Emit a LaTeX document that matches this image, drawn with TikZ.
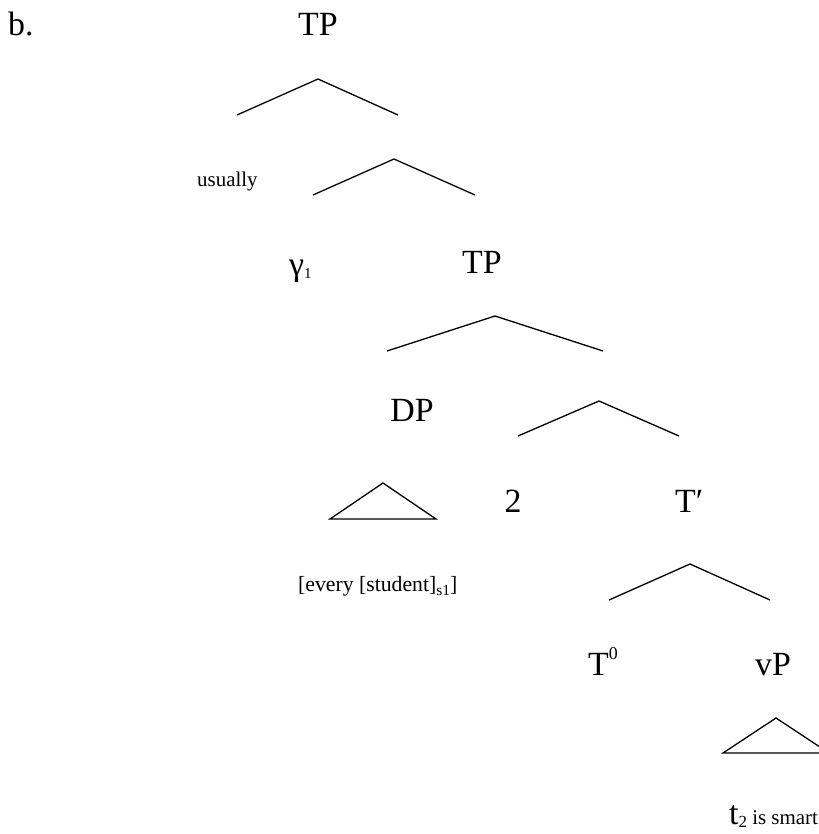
\documentclass[tikz,border=0pt]{standalone}
\usepackage{fontspec}
\setmainfont{Liberation Serif}
\newcommand{\bigf}{\fontsize{34}{40}\selectfont}
\newcommand{\smallf}{\fontsize{21}{25}\selectfont}
\newcommand{\tinyf}{\fontsize{15}{18}\selectfont}
\begin{document}
\begin{tikzpicture}[x=1bp,y=-1bp,
  lbl/.style={inner sep=0pt,anchor=base,font=\bigf},
  slbl/.style={inner sep=0pt,anchor=base west,font=\smallf},
  branch/.style={line width=1.3bp,line cap=butt,line join=miter}]
\useasboundingbox (0,0) rectangle (819,834);
% labels
\node[inner sep=0pt,anchor=base west,font=\bigf] (b) at (8,35) {b.};
\node[lbl] (tp1) at (318,35) {TP};
\node[slbl] (usually) at (197,186) {usually};
\node[inner sep=0pt,anchor=base west,font=\bigf] (gamma) at (289,275) {γ\raisebox{-3bp}{\tinyf 1}};
\node[lbl] (tp2) at (482,273) {TP};
\node[lbl] (dp) at (412,421) {DP};
\node[lbl] (two) at (513,512) {2};
\node[inner sep=0pt,anchor=base west,font=\bigf] (tbar) at (675,512) {T′};
\node[slbl,font=\fontsize{21.8}{25}\selectfont] (every) at (298,591) {[every [student]\raisebox{-4bp}{\fontsize{15.5}{18}\selectfont s1}]};
\node[inner sep=0pt,anchor=base west,font=\bigf] (t0) at (588,675) {T\raisebox{16bp}{\fontsize{18}{20}\selectfont 0}};
\node[lbl] (vp) at (773,675) {vP};
\node[inner sep=0pt,anchor=base west] (tsmart) at (729,824) {{\bigf t}{\smallf\raisebox{-3bp}{\fontsize{17}{20}\selectfont 2} is smart}};
% branches
\coordinate (a1) at (318,79);  \coordinate (l1) at (237,115); \coordinate (r1) at (398,115);
\coordinate (a2) at (394,159); \coordinate (l2) at (313,195); \coordinate (r2) at (475,195);
\coordinate (a3) at (495,316); \coordinate (l3) at (387,351); \coordinate (r3) at (603,351);
\coordinate (a4) at (599,401); \coordinate (l4) at (518,436); \coordinate (r4) at (679,436);
\coordinate (a5) at (690,564); \coordinate (l5) at (609,600); \coordinate (r5) at (770,600);
\draw[branch] (l1) -- (a1) -- (r1);
\draw[branch] (l2) -- (a2) -- (r2);
\draw[branch] (l3) -- (a3) -- (r3);
\draw[branch] (l4) -- (a4) -- (r4);
\draw[branch] (l5) -- (a5) -- (r5);
% triangles
\coordinate (ta1) at (383,483); \coordinate (tl1) at (330,519); \coordinate (tr1) at (436,519);
\draw[branch] (tl1) -- (ta1) -- (tr1) -- cycle;
\coordinate (ta2) at (776,718); \coordinate (tl2) at (723,753); \coordinate (tr2) at (829,753);
\draw[branch] (tl2) -- (ta2) -- (tr2) -- cycle;
\end{tikzpicture}
\end{document}
